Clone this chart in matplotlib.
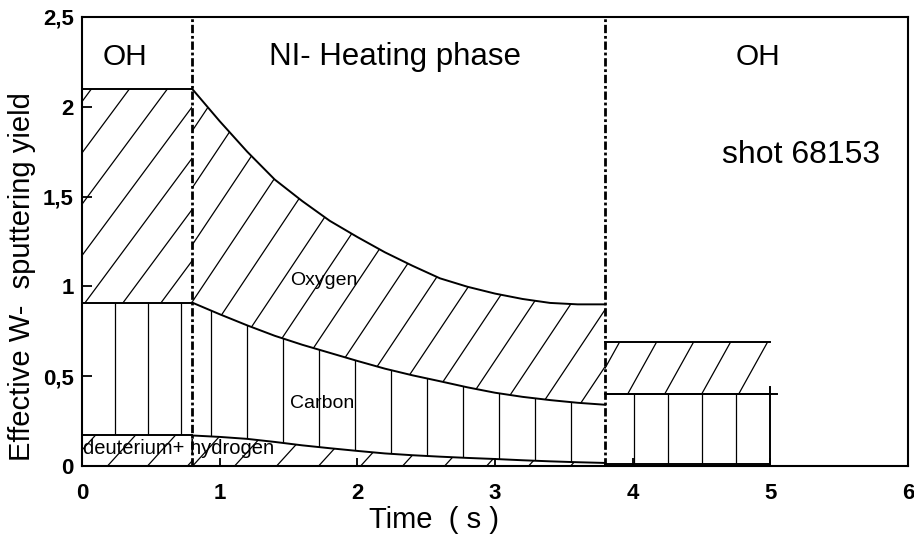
import numpy as np
import matplotlib
matplotlib.use("Agg")
import matplotlib.pyplot as plt

plt.rcParams['font.family'] = ['Liberation Sans', 'DejaVu Sans']

# ---------------- data ----------------
# phase boundaries (s)
t_oh1 = [0.0, 0.8]
t_ni = [0.8, 1.0, 1.2, 1.4, 1.6, 1.8, 2.0, 2.2, 2.4, 2.6, 2.8, 3.0, 3.2, 3.4, 3.6, 3.8]
t_oh2 = [3.8, 5.0]

# cumulative yields (top of each stacked band)
deut_oh1 = [0.17, 0.17]
carb_oh1 = [0.91, 0.91]
oxy_oh1 = [2.10, 2.10]

deut_ni = [0.170, 0.162, 0.151, 0.134, 0.115, 0.099, 0.084, 0.070, 0.060, 0.052,
           0.045, 0.039, 0.032, 0.026, 0.021, 0.017]
carb_ni = [0.91, 0.845, 0.783, 0.725, 0.675, 0.630, 0.585, 0.542, 0.505, 0.472,
           0.438, 0.408, 0.385, 0.367, 0.352, 0.341]
oxy_ni = [2.10, 1.92, 1.75, 1.595, 1.475, 1.365, 1.275, 1.19, 1.115, 1.045,
          0.998, 0.96, 0.93, 0.908, 0.900, 0.900]

deut_oh2 = [0.01, 0.01]
carb_oh2 = [0.40, 0.40]
oxy_oh2 = [0.69, 0.69]

x_ticks = [0, 1, 2, 3, 4, 5, 6]
x_ticklabels = ["0", "1", "2", "3", "4", "5", "6"]
y_ticks = [0, 0.5, 1, 1.5, 2, 2.5]
y_ticklabels = ["0", "0,5", "1", "1,5", "2", "2,5"]

phase_names = ["OH", "NI- Heating phase", "OH"]
band_names = ["Oxygen", "Carbon", "deuterium+ hydrogen"]

# ---------------- figure ----------------
W, H = 914, 548
fig = plt.figure(figsize=(W / 100, H / 100), dpi=100)
ax_l, ax_r, ax_t, ax_b = 82, 908, 17, 466
ax = fig.add_axes([ax_l / W, (H - ax_b) / H, (ax_r - ax_l) / W, (ax_b - ax_t) / H])
ax.set_xlim(0, 6)
ax.set_ylim(0, 2.5)

sx = (ax_r - ax_l) / 6.0    # px per second
sy = (ax_b - ax_t) / 2.5    # px per yield unit


def hatch(x, lo, hi, kind, step_px, phase_px=0.0, slope_px=1.4, lw=0.9):
    x = np.asarray(x, float)
    lo = np.asarray(lo, float)
    hi = np.asarray(hi, float)
    poly = ax.fill_between(x, lo, hi, facecolor='none', edgecolor='none', lw=0)
    path = poly.get_paths()[0]
    step = step_px / sx
    phase = phase_px / sx
    if kind == '|':
        xs = np.arange(x[0] + phase, x[-1] + step, step)
        for xv in xs:
            ln, = ax.plot([xv, xv], [-0.1, 2.6], color='black', lw=lw)
            ln.set_clip_path(path, ax.transData)
    else:
        m = slope_px * sx / sy
        c0 = x[0] - 2.6 / m - step
        cs = np.arange(c0 + phase, x[-1] + step, step)
        for c in cs:
            yy = np.array([-0.1, 2.6])
            xx = c + yy / m
            ln, = ax.plot(xx, yy, color='black', lw=lw)
            ln.set_clip_path(path, ax.transData)


zeros1 = [0, 0]
zeros_ni = [0] * len(t_ni)

# deuterium + hydrogen bands
hatch(t_oh1, zeros1, deut_oh1, '/', 40, 10, 1.1)
hatch(t_ni, zeros_ni, deut_ni, '/', 42, 5, 1.1)
# carbon bands
hatch(t_oh1, deut_oh1, carb_oh1, '|', 33, 33)
hatch(t_ni, deut_ni, carb_ni, '|', 36, 19)
hatch(t_oh2, deut_oh2, carb_oh2, '|', 34, 29)
# oxygen bands
hatch(t_oh1, carb_oh1, oxy_oh1, '/', 38, 0, 1.35)
hatch(t_ni, carb_ni, oxy_ni, '/', 38, 12, 1.5)
hatch(t_oh2, carb_oh2, oxy_oh2, '/', 37, 20, 1.8)

# outlines
lc = dict(color='black', lw=1.4)
for t, d, c, o in [(t_oh1, deut_oh1, carb_oh1, oxy_oh1),
                   (t_ni, deut_ni, carb_ni, oxy_ni),
                   (t_oh2, deut_oh2, carb_oh2, oxy_oh2)]:
    ax.plot(t, d, **lc)
    ax.plot(t, c, **lc)
    ax.plot(t, o, **lc)
ax.plot([t_oh2[0], t_oh2[-1] + 0.05], [carb_oh2[0], carb_oh2[-1]], **lc)
ax.plot([t_oh2[-1], t_oh2[-1]], [0, carb_oh2[-1] + 0.04], **lc)

# phase separators
for tb in (t_ni[0], t_ni[-1]):
    ax.plot([tb, tb], [0, 2.5], color='black', lw=2.0,
            linestyle=(0, (3.0, 1.0, 1.0, 1.0)))

# texts
ax.text(0.31, 2.28, phase_names[0], fontsize=21.5, ha='center', va='center')
ax.text(2.27, 2.28, phase_names[1], fontsize=22.5, ha='center', va='center')
ax.text(4.91, 2.28, phase_names[2], fontsize=21.5, ha='center', va='center')
ax.text(4.65, 1.73, "shot 68153", fontsize=23, ha='left', va='center')
ax.text(1.51, 1.035, band_names[0], fontsize=14, ha='left', va='center')
ax.text(1.51, 0.347, band_names[1], fontsize=14, ha='left', va='center')
ax.text(0.01, 0.095, band_names[2], fontsize=14.5, ha='left', va='center')

# axes styling
for s in ax.spines.values():
    s.set_linewidth(1.5)
ax.set_xticks(x_ticks)
ax.set_xticklabels(x_ticklabels, fontsize=16, fontweight='bold')
ax.set_yticks(y_ticks)
ax.set_yticklabels(y_ticklabels, fontsize=16, fontweight='bold')
ax.tick_params(axis='x', direction='in', length=6, width=1.3, pad=12)
ax.tick_params(axis='y', direction='in', length=7, width=1.3, pad=6)

fig.text(434 / W, (H - 520) / H, "Time  ( s )", fontsize=21, ha='center', va='center')
fig.text(22 / W, (H - 277) / H, "Effective W-  sputtering yield", fontsize=21,
         ha='center', va='center', rotation=90)

fig.savefig("out.png", dpi=100)
